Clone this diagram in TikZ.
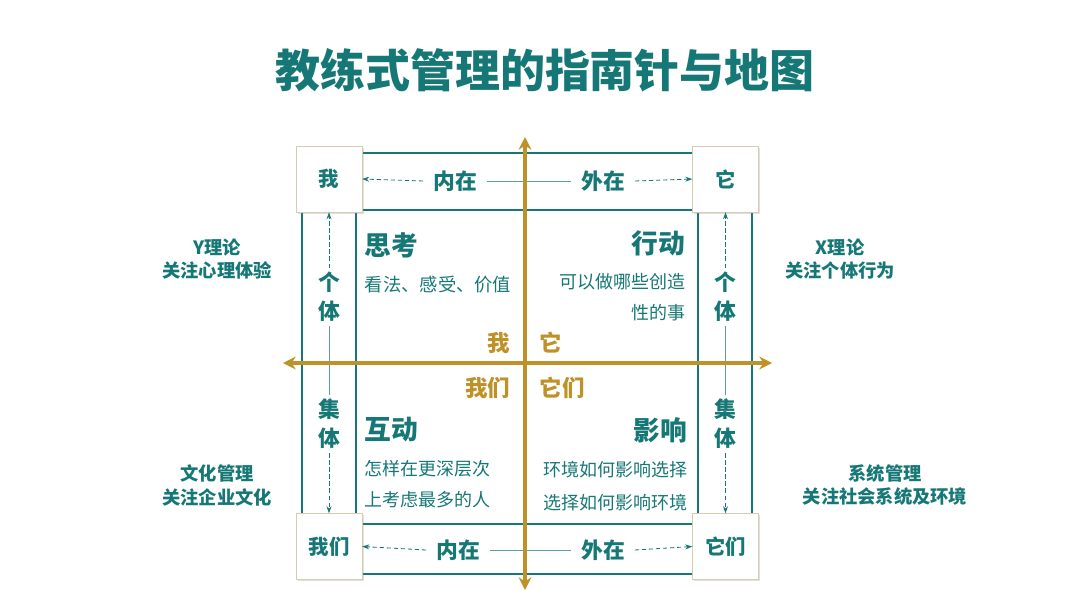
\documentclass[tikz,border=0pt]{standalone}
\usepackage{fontspec}
\setmainfont{Noto Sans CJK SC}
\usetikzlibrary{arrows.meta,shadows,backgrounds}
\definecolor{monTeal}{RGB}{22,120,118}
\definecolor{monOr}{RGB}{190,146,40}
\definecolor{monBord}{RGB}{214,204,176}

\begin{document}
\begin{tikzpicture}[x=0.025cm,y=-0.025cm,
    coin/.style={draw=monBord, fill=white, minimum size=46.8pt, inner sep=0pt,
      text=monTeal, font=\bfseries\fontsize{14.5}{16}\selectfont,
      drop shadow={opacity=0.25, shadow xshift=1.2pt, shadow yshift=-1.2pt}},
    cadre/.style={monTeal, line width=2.1pt},
    axe/.style={monOr, line width=2.8pt, {Stealth[length=9pt,width=9pt]}-{Stealth[length=9pt,width=9pt]}},
    fleche/.style={monTeal, line width=0.6pt, -{Stealth[length=5pt,width=3.5pt]}},
    trait/.style={monTeal!70, line width=0.5pt},
    sens/.style={text=monTeal, font=\bfseries\fontsize{15.5}{20.5}\selectfont, inner xsep=7pt, inner ysep=3pt},
    tete/.style={text=monTeal, font=\bfseries\fontsize{19}{22}\selectfont},
    corps/.style={text=monTeal, font=\fontsize{12.8}{22}\selectfont},
    cote/.style={text=monTeal, align=center, font=\bfseries\fontsize{13}{17}\selectfont},
    pronom/.style={text=monOr, font=\bfseries\fontsize{16}{18}\selectfont}]
  \useasboundingbox (0,0) rectangle (1080,607);

  % Titre
  \node[text=monTeal, font=\bfseries\fontsize{32}{36}\selectfont] (titre) at (545,70) {教练式管理的指南针与地图};

  % Cadres
  \draw[cadre] (302,153) rectangle (752,574);
  \draw[cadre] (356,210) rectangle (698,524);

  % Axes
  \coordinate (haut) at (525,137);
  \coordinate (bas) at (525,590);
  \coordinate (gauche) at (283,363);
  \coordinate (droite) at (772,363);
  \draw[axe] (bas) -- (haut);
  \draw[axe] (gauche) -- (droite);

  % Coins
  \node[coin] (moi) at (329,179) {我};
  \node[coin] (objet) at (725.5,179) {它};
  \node[coin] (nous) at (329,546.5) {我们};
  \node[coin] (objets) at (725.5,546.5) {它们};

  % Sens
  \node[sens] (inH) at (455,181) {内在};
  \node[sens] (exH) at (603,181) {外在};
  \node[sens] (inB) at (458,550) {内在};
  \node[sens] (exB) at (603,550) {外在};
  \node[sens, align=center] (indG) at (329,297) {个\\体};
  \node[sens, align=center] (colG) at (329,424) {集\\体};
  \node[sens, align=center] (indD) at (725.5,297) {个\\体};
  \node[sens, align=center] (colD) at (725.5,424) {集\\体};

  \draw[fleche, densely dashed] (inH.west) -- (moi.east);
  \draw[fleche, densely dashed] (exH.east) -- (objet.west);
  \draw[fleche, densely dashed] (inB.west) -- (nous.east);
  \draw[fleche, densely dashed] (exB.east) -- (objets.west);
  \draw[fleche, densely dashed] (indG.north) -- (moi.south);
  \draw[fleche, densely dashed] (colG.south) -- (nous.north);
  \draw[fleche, densely dashed] (indD.north) -- (objet.south);
  \draw[fleche, densely dashed] (colD.south) -- (objets.north);
  \begin{scope}[on background layer]
    \draw[trait] (inH.east) -- (exH.west);
    \draw[trait] (inB.east) -- (exB.west);
    \draw[trait] (indG.south) -- (colG.north);
    \draw[trait] (indD.south) -- (colD.north);
  \end{scope}

  % Quadrants
  \node[tete, anchor=west] (penser) at (360,245) {思考};
  \node[corps, anchor=west, font=\fontsize{13}{22}\selectfont] (penserT) at (360,285) {看法、感受、价值};
  \node[tete, anchor=east] (agir) at (690,243) {行动};
  \node[corps, anchor=east, align=right] (agirT) at (690,297.5) {可以做哪些创造\\性的事};
  \node[tete, anchor=west] (inter) at (360,430) {互动};
  \node[corps, anchor=west, align=left] (interT) at (360,484.5) {怎样在更深层次\\上考虑最多的人};
  \node[tete, anchor=east] (effet) at (692,430) {影响};
  \node[corps, anchor=east, align=right, font=\fontsize{12.8}{23.4}\selectfont] (effetT) at (692,486.5) {环境如何影响选择\\选择如何影响环境};

  % Pronoms
  \node[pronom, anchor=east] (je) at (515,343) {我};
  \node[pronom, anchor=west] (ca) at (535,343) {它};
  \node[pronom, anchor=east] (on) at (515,388) {我们};
  \node[pronom, anchor=west] (ces) at (535,388) {它们};

  % Cotes
  \node[cote] (theoY) at (217,259) {Y理论\\关注心理体验};
  \node[cote] (theoX) at (840,259) {X理论\\关注个体行为};
  \node[cote] (culture) at (217,485) {文化管理\\关注企业文化};
  \node[cote] (systeme) at (885,485) {系统管理\\关注社会系统及环境};
\end{tikzpicture}
\end{document}
